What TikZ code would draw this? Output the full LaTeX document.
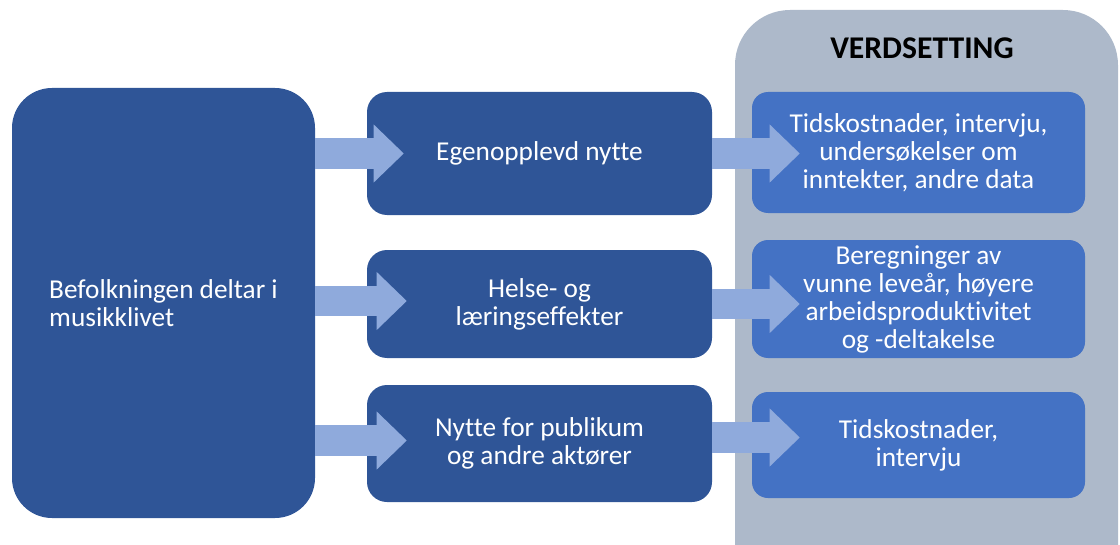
\documentclass[tikz,border=0pt]{standalone}
\usepackage{fontspec}
\setmainfont{Carlito}[Ligatures=NoCommon]
\usetikzlibrary{arrows.meta}
\newlength\px
\setlength\px{0.025cm}
\definecolor{boxdark}{HTML}{2F5597}
\definecolor{boxlight}{HTML}{4472C4}
\definecolor{panelgray}{HTML}{ADB9CA}
\definecolor{flowblue}{HTML}{8FAADC}
\tikzset{
  box/.style={fill=boxdark, text=white, rounded corners=20\px, align=center,
    font=\fontsize{19.4}{19.9}\selectfont, inner sep=0pt},
  valuebox/.style={box, fill=boxlight, rounded corners=16\px},
  flow/.style={draw=flowblue, line width=0.75cm,
    -{Triangle[length=0.75cm, width=1.45cm, line width=0pt, fill=flowblue]}}
}
\begin{document}
\begin{tikzpicture}[x=0.025cm,y=-0.025cm]
\clip (0,0) rectangle (1120,545);
\fill[panelgray, rounded corners=55\px] (735,10) rectangle (1118,620);
\node[font=\fontsize{22.5}{26}\selectfont\bfseries] (title) at (922,48) {VERDSETTING};

\node[box, rounded corners=40\px, minimum width=303\px, minimum height=430\px,
  align=left] (folk) at (163.5,303) {Befolkningen deltar i\\musikklivet};

\node[box, minimum width=345\px, minimum height=123\px] (nytte) at (539.5,153.5) {Egenopplevd nytte};
\node[box, minimum width=345\px, minimum height=108\px] (helse) at (539.5,304) {Helse- og\\læringseffekter};
\node[box, minimum width=345\px, minimum height=117\px] (publikum) at (539.5,443.5) {Nytte for publikum\\og andre aktører};

\node[valuebox, minimum width=333\px, minimum height=121\px] (tid) at (918.5,152.5) {Tidskostnader, intervju,\\undersøkelser om\\inntekter, andre data};
\node[valuebox, minimum width=333\px, minimum height=118\px] (leveaar) at (918.5,299) {Beregninger av\\vunne leveår, høyere\\arbeidsproduktivitet\\og -deltakelse};
\node[valuebox, minimum width=333\px, minimum height=106\px] (intervju) at (918.5,445) {Tidskostnader,\\intervju};

\draw[flow] (folk.east |- nytte.west) -- ([xshift=37\px]nytte.west);
\draw[flow] ([yshift=3\px]folk.east |- helse.west) -- ([xshift=40\px,yshift=3\px]helse.west);
\draw[flow] ([yshift=3\px]folk.east |- publikum.west) -- ([xshift=40\px,yshift=3\px]publikum.west);

\draw[flow] (nytte.east) -- ([xshift=48\px]tid.west |- nytte.east);
\draw[flow] (helse.east) -- ([xshift=48\px]leveaar.west |- helse.east);
\draw[flow] ([yshift=6\px]publikum.east) -- ([xshift=48\px,yshift=6\px]intervju.west |- publikum.east);
\end{tikzpicture}
\end{document}
